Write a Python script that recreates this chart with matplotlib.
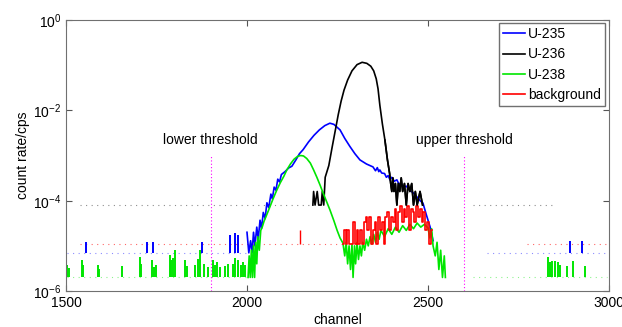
"""gamma spectrum of U-235 / U-236 / U-238 with thresholds"""
import numpy as np
from matplotlib import pyplot as plt

plt.rcParams['font.family'] = ['Liberation Sans', 'DejaVu Sans']
plt.rcParams['mathtext.default'] = 'regular'

# --- main peak regions (channel, count rate / cps) ---
u235_ch = [2000, 2005, 2010, 2014, 2018, 2022, 2027, 2031, 2036, 2040, 2045,
           2050, 2055, 2060, 2066, 2070, 2075, 2080, 2085, 2090, 2095, 2105,
           2115, 2124, 2135, 2145, 2155, 2170, 2185, 2200, 2215, 2229, 2240,
           2257, 2270, 2284, 2298, 2312, 2330, 2348, 2355, 2360, 2364, 2367,
           2372, 2380, 2385, 2390, 2395, 2400, 2407, 2414, 2420, 2425, 2432,
           2440, 2450, 2459, 2470, 2478, 2486, 2495, 2506, 2514]
u235_rate = [2.0e-5, 7e-6, 1.3e-5, 7e-6, 2.0e-5, 1.0e-5, 2.6e-5, 1.4e-5, 3.7e-5,
             2.4e-5, 5.5e-5, 4.0e-5, 9.0e-5, 7.0e-5, 1.4e-4, 1.1e-4, 2.0e-4,
             1.7e-4, 3.0e-4, 2.6e-4, 3.8e-4, 4.4e-4, 5.3e-4, 5.8e-4, 8.0e-4,
             1.1e-3, 1.35e-3, 2.0e-3, 2.8e-3, 3.7e-3, 4.6e-3, 5.2e-3, 4.9e-3,
             3.7e-3, 2.4e-3, 1.6e-3, 1.1e-3, 8.0e-4, 6.5e-4, 5.6e-4, 4.6e-4,
             5.4e-4, 4.4e-4, 4.8e-4, 4.1e-4, 4.0e-4, 3.3e-4, 3.6e-4, 2.9e-4,
             3.3e-4, 2.7e-4, 2.9e-4, 2.3e-4, 2.5e-4, 2.0e-4, 2.1e-4, 1.7e-4,
             1.5e-4, 1.2e-4, 1.0e-4, 8.9e-5, 5.0e-5, 2.6e-5, 1.3e-5]

u236_ch = [2182, 2184, 2188, 2194, 2198, 2205, 2208, 2212, 2216, 2226, 2235,
           2245, 2252, 2260, 2268, 2278, 2290, 2304, 2318, 2331, 2342, 2350,
           2357, 2362, 2367, 2374, 2381, 2388, 2394, 2397, 2400, 2403, 2406,
           2410, 2414, 2418, 2422, 2426, 2430, 2435, 2440, 2445, 2450, 2455,
           2460, 2465, 2470, 2478, 2485]
u236_rate = [8e-5, 1.6e-4, 8e-5, 1.6e-4, 8e-5, 8e-5, 1.6e-4, 8e-5, 3.3e-4,
             6.0e-4, 1.5e-3, 4.0e-3, 8.0e-3, 1.6e-2, 2.8e-2, 4.7e-2, 7.5e-2,
             0.103, 0.116, 0.110, 0.095, 0.075, 0.05, 0.03, 0.013, 5e-3,
             2.2e-3, 8e-4, 4e-4, 2.4e-4, 1.6e-4, 3.2e-4, 1.6e-4, 2.4e-4, 8e-5,
             2.4e-4, 1.6e-4, 3.2e-4, 1.6e-4, 2.4e-4, 8e-5, 2.4e-4, 1.6e-4,
             2.4e-4, 8e-5, 1.6e-4, 8e-5, 1.6e-4, 8e-5]

u238_ch = [2003, 2006, 2009, 2012, 2015, 2018, 2021, 2024, 2027, 2030, 2034,
           2038, 2042, 2047, 2055, 2063, 2072, 2082, 2092, 2102, 2110, 2120,
           2130, 2140, 2148, 2156, 2165, 2175, 2184, 2193, 2202, 2210, 2220,
           2229, 2240, 2249, 2257, 2265, 2270, 2274, 2278, 2282, 2286, 2290,
           2293, 2297, 2300, 2304, 2308, 2312, 2316, 2320, 2325, 2330, 2335,
           2340, 2345, 2350, 2355, 2360, 2365, 2370, 2380, 2390, 2400, 2410,
           2420, 2430, 2440, 2450, 2460, 2470, 2480, 2490, 2500, 2505, 2510,
           2514, 2520, 2525, 2530, 2535, 2540, 2545, 2548]
u238_rate = [2e-6, 6e-6, 2e-6, 8e-6, 2e-6, 1.0e-5, 2e-6, 1.2e-5, 4e-6, 1.6e-5,
             8e-6, 2.2e-5, 2.6e-5, 3.5e-5, 5.0e-5, 7.2e-5, 1.1e-4, 1.7e-4,
             2.5e-4, 3.5e-4, 4.8e-4, 6.5e-4, 8.3e-4, 9.6e-4, 1.0e-3, 9.8e-4,
             8.6e-4, 6.8e-4, 4.8e-4, 3.3e-4, 2.2e-4, 1.5e-4, 9.5e-5, 6.3e-5,
             3.6e-5, 2.2e-5, 1.5e-5, 1.15e-5, 6e-6, 1.2e-5, 4e-6, 1.0e-5, 3e-6,
             1.1e-5, 2e-6, 1.0e-5, 4e-6, 1.2e-5, 5e-6, 1.0e-5, 6e-6, 1.2e-5,
             8e-6, 1.4e-5, 1.0e-5, 1.6e-5, 1.1e-5, 1.8e-5, 1.2e-5, 2.0e-5,
             1.4e-5, 2.2e-5, 1.6e-5, 2.4e-5, 1.8e-5, 2.6e-5, 2.0e-5, 2.8e-5,
             2.2e-5, 3.0e-5, 2.4e-5, 3.2e-5, 2.6e-5, 3.0e-5, 2.5e-5, 1.5e-5,
             2.4e-5, 1.0e-5, 6e-6, 1.2e-5, 3e-6, 8e-6, 2e-6, 6e-6, 2e-6]

bg_ch = [2265, 2270, 2275, 2280, 2285, 2290, 2295, 2300, 2305, 2310, 2315,
         2320, 2325, 2330, 2335, 2340, 2345, 2350, 2355, 2360, 2365, 2370,
         2375, 2380, 2385, 2390, 2395, 2400, 2405, 2410, 2415, 2420, 2425,
         2430, 2435, 2440, 2445, 2450, 2455, 2460, 2465, 2470, 2475, 2480,
         2485, 2490, 2495, 2500, 2505, 2510]
bg_rate = np.array([1.1, 2.2, 1.1, 2.2, 1.1, 1.1, 3.3, 1.1, 2.2, 1.1, 2.2,
                    1.1, 3.3, 4.4, 2.2, 4.4, 1.1, 2.2, 3.3, 1.1, 4.4, 2.2,
                    3.3, 1.1, 4.4, 5.5, 2.2, 4.4, 3.3, 6.6, 2.2, 5.5, 7.7,
                    3.3, 6.6, 4.4, 7.7, 2.2, 6.6, 5.5, 3.3, 7.7, 4.4, 6.6,
                    3.3, 5.5, 2.2, 3.3, 1.1, 2.2]) * 1e-5

# --- isolated single/few-count spikes outside the peaks ---
u238_spk_ch = [1503, 1507, 1544, 1548, 1588, 1592, 1655, 1704, 1708, 1738,
               1742, 1748, 1787, 1791, 1796, 1801, 1829, 1833, 1857, 1866,
               1870, 1882, 1892, 1905, 1912, 1918, 1925, 1940, 1948, 1961,
               1967, 1975, 1984, 1990, 1994,
               2831, 2836, 2842, 2850, 2859, 2864, 2884, 2900, 2934]
u238_spk_top = [3.7e-6, 3.2e-6, 4.8e-6, 3.7e-6, 3.7e-6, 3.0e-6, 3.6e-6, 5.7e-6,
                4.0e-6, 4.8e-6, 3.4e-6, 3.7e-6, 6.3e-6, 4.8e-6, 5.5e-6, 8e-6,
                4.8e-6, 3.6e-6, 3.7e-6, 5.0e-6, 8e-6, 4.0e-6, 3.4e-6, 4.8e-6,
                3.7e-6, 4.4e-6, 3.4e-6, 3.6e-6, 4.0e-6, 4e-6, 5.5e-6, 4.8e-6,
                3.7e-6, 4.4e-6, 3.7e-6,
                5.7e-6, 4.4e-6, 4.6e-6, 4.6e-6, 4.4e-6, 3.8e-6, 3.6e-6, 4.6e-6,
                3.6e-6]
u235_spk_ch = [1554, 1724, 1740, 1876, 1953, 1967, 1975, 2892, 2925]
u235_spk_top = [1.2e-5, 1.2e-5, 1.2e-5, 1.2e-5, 1.7e-5, 1.9e-5, 1.7e-5,
                1.3e-5, 1.3e-5]
bg_spk_ch = [2146]
bg_spk_top = [2.2e-5]

# --- sparse single-count rows (level, start channel, end channel) ---
floor_rows = [
    ("k", 8e-5, 1539, 2174), ("k", 8e-5, 2624, 2851),
    ("r", 1.1e-5, 1539, 2265), ("r", 1.1e-5, 2773, 2994),
    ("b", 6.8e-6, 1503, 2008), ("b", 6.8e-6, 2663, 2994),
    ("g", 2e-6, 1503, 2008), ("g", 2e-6, 2624, 2994),
]
thresholds = [1900, 2600]
threshold_labels = ["lower threshold", "upper threshold"]

COLORS = {"b": "#0000ff", "k": "#000000", "g": "#00e600", "r": "#ff0000"}
FLOORS = {"b": 6.8e-6, "g": 2e-6, "r": 1.1e-5}

fig = plt.figure(figsize=(6.22, 3.27), dpi=100)
ax = fig.add_axes([0.1061, 0.110, 0.873, 0.8287])

for col, lev, x0, x1 in floor_rows:
    ax.hlines(lev, x0, x1, colors=COLORS[col], linestyles=(0, (1, 4)),
              lw=0.8, alpha=0.45 if col != "r" else 0.6)

ax.vlines(u238_spk_ch, FLOORS["g"], u238_spk_top, colors=COLORS["g"], lw=1.4)
ax.vlines(u235_spk_ch, FLOORS["b"], u235_spk_top, colors=COLORS["b"], lw=1.4)
ax.vlines(bg_spk_ch, FLOORS["r"], bg_spk_top, colors=COLORS["r"], lw=1.0)

h235, = ax.plot(u235_ch, u235_rate, color=COLORS["b"], lw=1.2, label="U-235")
h236, = ax.plot(u236_ch, u236_rate, color=COLORS["k"], lw=1.2, label="U-236")
h238, = ax.plot(u238_ch, u238_rate, color=COLORS["g"], lw=1.2, label="U-238")
hbg, = ax.plot(bg_ch, bg_rate, color=COLORS["r"], lw=1.2, drawstyle="steps-mid",
               label="background")
ax.plot(u236_ch[26:], u236_rate[26:], color=COLORS["k"], lw=1.2)

for xt, txt in zip(thresholds, threshold_labels):
    ax.vlines(xt, 1e-6, 1e-3, colors="#ff00ff", linestyles=(0, (1, 2)), lw=0.8)
    ax.text(xt, 1.55e-3, txt, ha="center", va="bottom", fontsize=10)

ax.set_yscale("log")
ax.set_xlim(1500, 3000)
ax.set_ylim(1e-6, 1e0)
ax.set_xticks([1500, 2000, 2500, 3000])
ax.set_yticks([1e0, 1e-2, 1e-4, 1e-6])
ax.set_yticklabels([r"$10^{0}$", r"$10^{-2}$", r"$10^{-4}$", r"$10^{-6}$"])
ax.minorticks_off()
ax.tick_params(direction="in", top=True, right=True, labelsize=10,
               color="#555555", length=4)
for sp in ax.spines.values():
    sp.set_color("#707070")
ax.set_xlabel("channel", fontsize=10, labelpad=2)
ax.set_ylabel("count rate/cps", fontsize=10, labelpad=2)

ax.legend(handles=[h235, h236, h238, hbg], loc="upper right",
          bbox_to_anchor=(0.993, 0.989), borderaxespad=0, fancybox=False,
          edgecolor="#707070", framealpha=1, fontsize=10, handlelength=1.6,
          handletextpad=0.2, labelspacing=0.45, borderpad=0.3)

fig.savefig("out.png", dpi=100)
